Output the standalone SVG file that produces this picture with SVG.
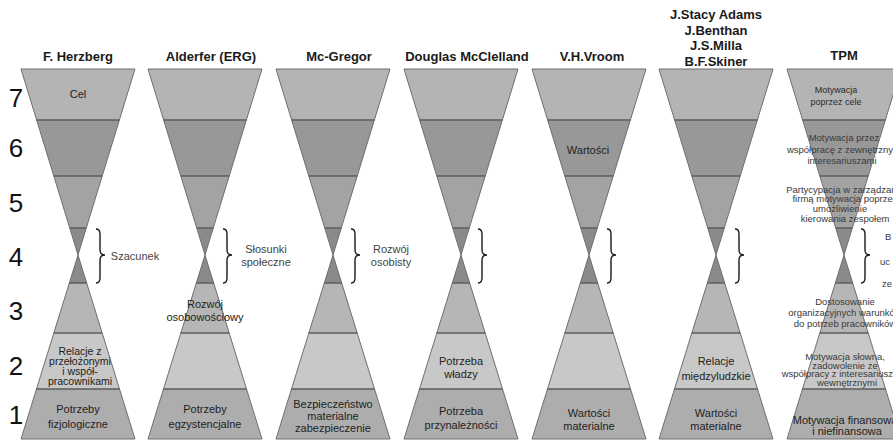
<svg xmlns="http://www.w3.org/2000/svg" xmlns:xlink="http://www.w3.org/1999/xlink" width="893" height="441" viewBox="0 0 893 441">
<style>
text{font-family:"Liberation Sans",Arial,sans-serif}
.h{font-size:13px;font-weight:bold;fill:#1a1a1a;text-anchor:middle}
.t{font-size:11px;fill:#222;text-anchor:middle}
.t12{font-size:10.5px;fill:#222;text-anchor:middle}
.b{font-size:11px;fill:#444;text-anchor:middle}
.p{font-size:9.5px;fill:#3a3a3a;text-anchor:middle}
.ps{font-size:9px;fill:#2a2a2a;text-anchor:middle}
.n{font-size:26px;fill:#111;text-anchor:middle}
.br{fill:none;stroke:#1a1a1a;stroke-width:1.4}
.ol{fill:none;stroke:#6f6f6f;stroke-width:1}
.dv{stroke:#5c5c5c;stroke-width:1.5}
</style>
<defs>
<g id="hg">
<polygon points="-57,69 57,69 41.4,120 -41.4,120" fill="#b4b4b4"/>
<polygon points="-41.4,120 41.4,120 24.2,176 -24.2,176" fill="#989898"/>
<polygon points="-24.2,176 24.2,176 8.3,228 -8.3,228" fill="#a3a3a3"/>
<polygon points="-8.3,228 8.3,228 0,255" fill="#8a8a8a"/>
<polygon points="0,255 8.7,283 -8.7,283" fill="#8a8a8a"/>
<polygon points="-8.7,283 8.7,283 24.2,333 -24.2,333" fill="#b6b6b6"/>
<polygon points="-24.2,333 24.2,333 41.5,389 -41.5,389" fill="#c8c8c8"/>
<polygon points="-41.5,389 41.5,389 57,439 -57,439" fill="#adadad"/>
<polygon class="ol" points="-57,69 57,69 0,255"/>
<polygon class="ol" points="0,255 57,439 -57,439"/>
<line class="dv" x1="-41.4" y1="120" x2="41.4" y2="120"/>
<line class="dv" x1="-24.2" y1="176" x2="24.2" y2="176"/>
<line class="dv" x1="-8.3" y1="228" x2="8.3" y2="228"/>
<line class="dv" x1="-8.7" y1="283" x2="8.7" y2="283"/>
<line class="dv" x1="-24.2" y1="333" x2="24.2" y2="333"/>
<line class="dv" x1="-41.5" y1="389" x2="41.5" y2="389"/>
</g>
<path id="brace" class="br" d="M-4,229 Q0,229 0,234 L0,250 Q0,255 5,255 Q0,255 0,260 L0,278 Q0,283 -4,283"/>
</defs>
<rect width="893" height="441" fill="#fff"/>

<g id="levels">
<text class="n" x="16" y="107">7</text>
<text class="n" x="16" y="157">6</text>
<text class="n" x="16" y="212">5</text>
<text class="n" x="16" y="266">4</text>
<text class="n" x="16" y="320">3</text>
<text class="n" x="16" y="375">2</text>
<text class="n" x="16" y="424">1</text>
</g>

<g id="herzberg">
<text class="h" x="78" y="61">F. Herzberg</text>
<use xlink:href="#hg" x="78"/>
<text class="t" x="78" y="98">Cel</text>
<use xlink:href="#brace" x="100"/>
<text class="b" x="135" y="260">Szacunek</text>
<text class="t12" x="80" y="355">Relacje z</text>
<text class="t12" x="80" y="365">przełożonymi</text>
<text class="t12" x="80" y="375">i współ-</text>
<text class="t12" x="80" y="385">pracownikami</text>
<text class="t" x="78" y="413">Potrzeby</text>
<text class="t" x="78" y="428">fizjologiczne</text>
</g>

<g id="alderfer">
<text class="h" x="211" y="61">Alderfer (ERG)</text>
<use xlink:href="#hg" x="205"/>
<use xlink:href="#brace" x="227"/>
<text class="b" x="266" y="253">Słosunki</text>
<text class="b" x="266" y="266">społeczne</text>
<text class="t" x="205" y="308">Rozwój</text>
<text class="t" x="205" y="321">osobowościowy</text>
<text class="t" x="205" y="413">Potrzeby</text>
<text class="t" x="205" y="428">egzystencjalne</text>
</g>

<g id="mcgregor">
<text class="h" x="339" y="61">Mc-Gregor</text>
<use xlink:href="#hg" x="333"/>
<use xlink:href="#brace" x="355"/>
<text class="b" x="391" y="253">Rozwój</text>
<text class="b" x="391" y="266">osobisty</text>
<text class="t" x="333" y="408">Bezpieczeństwo</text>
<text class="t" x="333" y="420">materialne</text>
<text class="t" x="333" y="432">zabezpieczenie</text>
</g>

<g id="mcclelland">
<text class="h" x="467" y="61">Douglas McClelland</text>
<use xlink:href="#hg" x="461"/>
<use xlink:href="#brace" x="482"/>
<text class="t" x="461" y="365">Potrzeba</text>
<text class="t" x="461" y="378">władzy</text>
<text class="t" x="461" y="415">Potrzeba</text>
<text class="t" x="461" y="429">przynależności</text>
</g>

<g id="vroom">
<text class="h" x="592" y="61">V.H.Vroom</text>
<use xlink:href="#hg" x="589"/>
<text class="t" x="588" y="154">Wartości</text>
<use xlink:href="#brace" x="611"/>
<text class="t" x="589" y="417">Wartości</text>
<text class="t" x="589" y="430">materialne</text>
</g>

<g id="adams">
<text class="h" x="716" y="19">J.Stacy Adams</text>
<text class="h" x="716" y="35">J.Benthan</text>
<text class="h" x="716" y="50">J.S.Milla</text>
<text class="h" x="716" y="66">B.F.Skiner</text>
<use xlink:href="#hg" x="716"/>
<use xlink:href="#brace" x="739"/>
<text class="t" x="716" y="365">Relacje</text>
<text class="t" x="716" y="380">międzyludzkie</text>
<text class="t" x="716" y="417">Wartości</text>
<text class="t" x="716" y="430">materialne</text>
</g>

<g id="tpm">
<text class="h" x="844" y="60">TPM</text>
<use xlink:href="#hg" x="844"/>
<text class="ps" x="836" y="93">Motywacja</text>
<text class="ps" x="836" y="105">poprzez cele</text>
<text class="p" x="844" y="141">Motywacja przez</text>
<text class="p" x="845" y="153">współpracę z zewnętrznymi</text>
<text class="p" x="842" y="164">interesariuszami</text>
<text class="p" x="845" y="193">Partycypacja w zarządzaniu</text>
<text class="p" x="845" y="202">firmą motywacja poprzez</text>
<text class="p" x="840" y="212">umożliwienie</text>
<text class="p" x="845" y="222">kierowania zespołem</text>
<use xlink:href="#brace" x="865"/>
<text class="p" x="885" y="240" style="text-anchor:start">B</text>
<text class="p" x="880" y="265" style="text-anchor:start">uc</text>
<text class="p" x="882" y="287" style="text-anchor:start">ze</text>
<text class="p" x="845" y="305">Dostosowanie</text>
<text class="p" x="845" y="316">organizacyjnych warunków</text>
<text class="p" x="845" y="327">do potrzeb pracowników</text>
<text class="p" x="845" y="360">Motywacja słowna,</text>
<text class="p" x="845" y="368.5">zadowolenie ze</text>
<text class="p" x="845" y="377">współpracy z interesariuszami</text>
<text class="p" x="847" y="386">wewnętrznymi</text>
<text class="t" x="845" y="424">Motywacja finansowa</text>
<text class="t" x="847" y="435">i niefinansowa</text>
</g>
</svg>
